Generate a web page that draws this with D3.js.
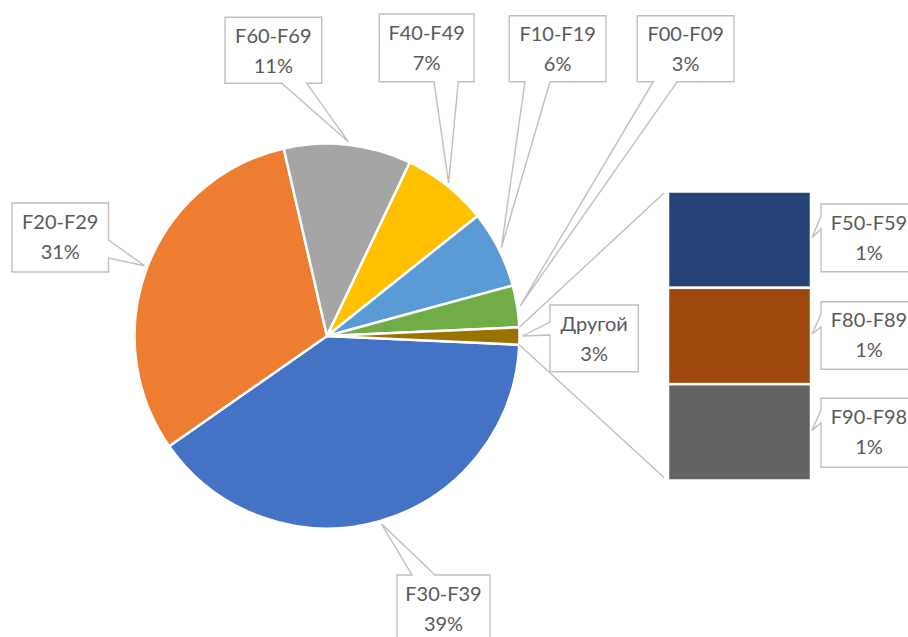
<!DOCTYPE html>
<html>
<head>
<meta charset="utf-8">
<script src="https://cdn.jsdelivr.net/npm/d3@7"></script>
<style>
  html, body { margin: 0; padding: 0; background: #ffffff; }
  svg { display: block; }
</style>
</head>
<body>
<svg id="chart" width="908" height="637"></svg>
<script>
// ---- data ----
const pieCategories = ["F30-F39", "F20-F29", "F60-F69", "F40-F49", "F10-F19", "F00-F09"];
const pieValues     = [39.6, 31.1, 10.7, 7.2, 6.5, 3.5];
const piePctLabels  = ["39%", "31%", "11%", "7%", "6%", "3%"];
const otherName     = "Другой";
const otherPctLabel = "3%";
const barCategories = ["F50-F59", "F80-F89", "F90-F98"];
const barValues     = [0.48, 0.48, 0.48];
const barPctLabels  = ["1%", "1%", "1%"];

// ---- styles ----
const pieColors = ["#4472C4", "#ED7D31", "#A5A5A5", "#FFC000", "#5B9BD5", "#70AD47"];
const otherColor = "#997300";
const barColors = ["#264478", "#9E480E", "#636363"];
const lineColor = "#BFBFBF";
const textColor = "#595959";
const fontFamily = "Lato, 'Open Sans', sans-serif";
const fontSize = 20;

// ---- layout ----
const cx = 327, cy = 336, R = 192.5;
const bar = { x0: 668, x1: 811, y0: 191.5, y1: 480.5 };

// callout boxes: box rect, side of pointer, base endpoints along that side
const pieLabelLayout = [
  { x: 397,   y: 575,   w: 93,   h: 67,   side: "top",    b: [412, 435] },
  { x: 12,    y: 203,   w: 96.5, h: 69,   side: "right",  b: [240, 258] },
  { x: 225,   y: 17.3,  w: 96.7, h: 66,   side: "bottom", b: [281.7, 306.7] },
  { x: 379.3, y: 14,    w: 94.7, h: 67.7, side: "bottom", b: [434, 458.3] },
  { x: 509.3, y: 15.7,  w: 96.7, h: 66,   side: "bottom", b: [525, 550] },
  { x: 637.3, y: 15.7,  w: 96.7, h: 66,   side: "bottom", b: [653.3, 677.3] }
];
const otherLabelLayout = { x: 550, y: 305, w: 88.3, h: 66.7, side: "left", b: [322, 335] };
const barLabelLayout = [
  { x: 821, y: 204,   w: 96, h: 67.7, side: "left", b: [216, 229] },
  { x: 821, y: 301.7, w: 96, h: 67.6, side: "left", b: [314, 327] },
  { x: 821, y: 398.3, w: 96, h: 69,   side: "left", b: [410, 423] }
];

const svg = d3.select("#chart");
svg.append("rect").attr("width", 908).attr("height", 637).attr("fill", "#ffffff");

// ---- pie ----
const otherValue = d3.sum(barValues);
const slices = pieCategories.map((c, i) => ({ name: c, value: pieValues[i], color: pieColors[i], pct: piePctLabels[i], layout: pieLabelLayout[i] }));
slices.push({ name: otherName, value: otherValue, color: otherColor, pct: otherPctLabel, layout: otherLabelLayout });
const total = d3.sum(slices, d => d.value);
const start = Math.PI / 2 + (otherValue / total) * Math.PI;

const pie = d3.pie().sort(null).value(d => d.value).startAngle(start).endAngle(start + 2 * Math.PI);
const arcs = pie(slices);
const arc = d3.arc().innerRadius(0).outerRadius(R);

const gPie = svg.append("g").attr("transform", `translate(${cx},${cy})`);
gPie.selectAll("path.slice").data(arcs).join("path")
  .attr("class", "slice")
  .attr("d", arc)
  .attr("fill", d => d.data.color)
  .attr("stroke", "#ffffff")
  .attr("stroke-width", 2.5)
  .attr("stroke-linejoin", "round");

function polar(a, r) { return [cx + Math.sin(a) * r, cy - Math.cos(a) * r]; }

// ---- connector lines from "other" slice to the bar ----
const oArc = arcs[arcs.length - 1];
const pTop = polar(oArc.startAngle, R);
const pBot = polar(oArc.endAngle, R);
svg.append("line").attr("x1", pTop[0]).attr("y1", pTop[1]).attr("x2", bar.x0 - 4).attr("y2", bar.y0 + 1.5)
  .attr("stroke", lineColor).attr("stroke-width", 1.4);
svg.append("line").attr("x1", pBot[0]).attr("y1", pBot[1]).attr("x2", bar.x0 - 4).attr("y2", bar.y1 - 3)
  .attr("stroke", lineColor).attr("stroke-width", 1.4);

// ---- bar of other ----
const yBar = d3.scaleLinear().domain([0, otherValue]).range([bar.y0, bar.y1]);
const stacked = [];
let acc = 0;
barCategories.forEach((c, i) => {
  stacked.push({ name: c, v0: acc, v1: acc + barValues[i], color: barColors[i], pct: barPctLabels[i], layout: barLabelLayout[i] });
  acc += barValues[i];
});
svg.selectAll("rect.bar").data(stacked).join("rect")
  .attr("class", "bar")
  .attr("x", bar.x0)
  .attr("width", bar.x1 - bar.x0)
  .attr("y", d => yBar(d.v0))
  .attr("height", d => yBar(d.v1) - yBar(d.v0))
  .attr("fill", d => d.color)
  .attr("stroke", "#ffffff")
  .attr("stroke-width", 2.5);

// ---- callouts ----
function calloutPath(L, tip) {
  const { x, y, w, h, side, b } = L;
  const [tx, ty] = tip;
  const p = d3.path();
  p.moveTo(x, y);
  if (side === "top") { p.lineTo(b[0], y); p.lineTo(tx, ty); p.lineTo(b[1], y); }
  p.lineTo(x + w, y);
  if (side === "right") { p.lineTo(x + w, b[0]); p.lineTo(tx, ty); p.lineTo(x + w, b[1]); }
  p.lineTo(x + w, y + h);
  if (side === "bottom") { p.lineTo(b[1], y + h); p.lineTo(tx, ty); p.lineTo(b[0], y + h); }
  p.lineTo(x, y + h);
  if (side === "left") { p.lineTo(x, b[1]); p.lineTo(tx, ty); p.lineTo(x, b[0]); }
  p.closePath();
  return p.toString();
}

const callouts = [];
arcs.forEach(a => {
  const mid = (a.startAngle + a.endAngle) / 2;
  callouts.push({ name: a.data.name, pct: a.data.pct, layout: a.data.layout, tip: polar(mid, R + 3) });
});
stacked.forEach(s => {
  callouts.push({ name: s.name, pct: s.pct, layout: s.layout, tip: [bar.x1 + 1, (yBar(s.v0) + yBar(s.v1)) / 2 - 2] });
});

const gLab = svg.append("g");
const cg = gLab.selectAll("g.callout").data(callouts).join("g").attr("class", "callout");
cg.append("path")
  .attr("d", d => calloutPath(d.layout, d.tip))
  .attr("fill", "#ffffff")
  .attr("stroke", lineColor)
  .attr("stroke-width", 1.4)
  .attr("stroke-linejoin", "miter");
cg.append("text")
  .attr("x", d => d.layout.x + d.layout.w / 2)
  .attr("y", d => d.layout.y + 25.5)
  .attr("text-anchor", "middle")
  .attr("font-family", fontFamily)
  .attr("font-size", fontSize)
  .attr("fill", textColor)
  .text(d => d.name);
cg.append("text")
  .attr("x", d => d.layout.x + d.layout.w / 2)
  .attr("y", d => d.layout.y + 55.5)
  .attr("text-anchor", "middle")
  .attr("font-family", fontFamily)
  .attr("font-size", fontSize)
  .attr("fill", textColor)
  .text(d => d.pct);
</script>
</body>
</html>
